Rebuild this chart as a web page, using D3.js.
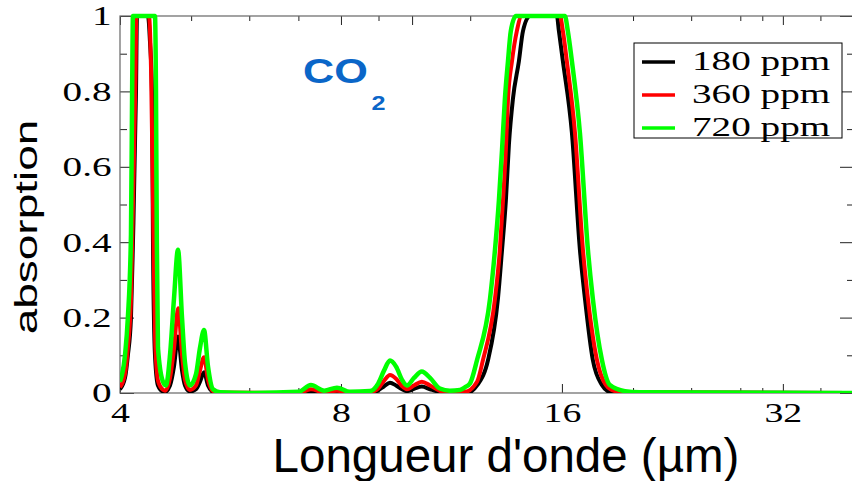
<!DOCTYPE html>
<html>
<head>
<meta charset="utf-8">
<script src="https://cdn.jsdelivr.net/npm/d3@7"></script>
<style>
  body { margin: 0; background: #fff; }
  svg { display: block; }
</style>
</head>
<body>
<script>
// wavelength (µm) and absorption for each CO2 concentration
var wl180 = [4.0, 4.063, 4.10, 4.14, 4.166, 4.206, 4.219, 4.367, 4.395, 4.422, 4.436, 4.464, 4.506, 4.577, 4.606, 4.679, 4.738, 4.798, 4.859, 4.905, 4.982, 5.077, 5.141, 5.206, 5.272, 5.355, 5.474, 7.0, 7.28, 7.59, 7.9, 8.23, 8.76, 8.99, 9.16, 9.33, 9.51, 9.69, 9.84, 10.06, 10.31, 10.58, 10.91, 11.26, 11.62, 11.99, 12.26, 12.69, 13.09, 13.26, 13.42, 13.55, 13.72, 13.98, 14.16, 14.47, 15.75, 15.85, 16.05, 16.51, 16.93, 17.20, 17.63, 18.14, 18.60, 19.5, 40];
var ab180 = [0.01, 0.04, 0.1, 0.2, 0.4, 0.8, 1.0, 1.0, 0.93, 0.8, 0.4, 0.1, 0.02, 0.004, 0.003, 0.02, 0.07, 0.15, 0.06, 0.02, 0.004, 0.01, 0.03, 0.055, 0.02, 0.003, 0, 0, 0.004, 0.001, 0.003, 0, 0.001, 0.007, 0.018, 0.027, 0.02, 0.01, 0.005, 0.011, 0.017, 0.01, 0.003, 0.001, 0.001, 0.003, 0.02, 0.0875, 0.25, 0.38, 0.51, 0.66, 0.78, 0.88, 0.96, 1.0, 1.0, 0.96, 0.88, 0.69, 0.38, 0.25, 0.0875, 0.021, 0.003, 0.001, 0];

var wl360 = [4.0, 4.063, 4.10, 4.14, 4.166, 4.20, 4.21, 4.38, 4.41, 4.44, 4.47, 4.51, 4.58, 4.61, 4.68, 4.74, 4.80, 4.86, 4.905, 4.98, 5.077, 5.141, 5.206, 5.272, 5.355, 5.474, 7.0, 7.28, 7.59, 7.9, 8.23, 8.76, 8.99, 9.16, 9.33, 9.51, 9.69, 9.84, 10.06, 10.31, 10.58, 10.91, 11.26, 11.8, 12.26, 12.49, 12.97, 13.17, 13.30, 13.42, 13.51, 13.68, 13.89, 14.11, 15.90, 16.05, 16.25, 16.67, 17.09, 17.36, 17.86, 18.37, 18.89, 19.5, 40];
var ab360 = [0.015, 0.05, 0.12, 0.25, 0.5, 0.85, 1.0, 1.0, 0.85, 0.45, 0.12, 0.03, 0.008, 0.006, 0.04, 0.12, 0.225, 0.1, 0.035, 0.008, 0.02, 0.06, 0.095, 0.035, 0.005, 0.001, 0, 0.01, 0.002, 0.006, 0.001, 0.002, 0.012, 0.033, 0.048, 0.038, 0.018, 0.01, 0.02, 0.03, 0.02, 0.006, 0.002, 0.003, 0.03, 0.0875, 0.25, 0.38, 0.51, 0.645, 0.78, 0.88, 0.96, 1.0, 1.0, 0.96, 0.88, 0.69, 0.38, 0.25, 0.0875, 0.021, 0.005, 0.002, 0];

var wl720 = [4.0, 4.063, 4.10, 4.14, 4.155, 4.166, 4.464, 4.478, 4.49, 4.506, 4.577, 4.62, 4.679, 4.738, 4.798, 4.859, 4.905, 4.982, 5.077, 5.141, 5.206, 5.272, 5.355, 5.474, 6.0, 7.0, 7.28, 7.59, 7.9, 8.23, 8.76, 8.99, 9.16, 9.33, 9.51, 9.69, 9.84, 10.06, 10.31, 10.58, 10.91, 11.26, 11.62, 11.8, 11.99, 12.26, 12.77, 12.97, 13.13, 13.26, 13.38, 13.51, 13.63, 13.85, 16.15, 16.30, 16.51, 16.93, 17.36, 17.63, 18.14, 18.60, 19.5, 20.4, 40];
var ab720 = [0.03, 0.1, 0.2, 0.42, 0.8, 1.0, 1.0, 0.8, 0.4, 0.12, 0.03, 0.02, 0.1, 0.25, 0.38, 0.2, 0.08, 0.02, 0.05, 0.12, 0.167, 0.07, 0.01, 0.002, 0, 0.003, 0.021, 0.006, 0.014, 0.003, 0.005, 0.025, 0.06, 0.086, 0.07, 0.035, 0.02, 0.04, 0.057, 0.04, 0.012, 0.006, 0.008, 0.015, 0.025, 0.0875, 0.25, 0.38, 0.51, 0.645, 0.78, 0.88, 0.96, 1.0, 1.0, 0.96, 0.88, 0.69, 0.38, 0.25, 0.0875, 0.021, 0.005, 0.002, 0];

var seriesNames = ["180 ppm", "360 ppm", "720 ppm"];
var seriesColors = ["#000000", "#ff0000", "#00ff00"];

var xMajor = [4, 8, 10, 16, 32];
var xMinor = [5, 6, 7, 9, 12, 20, 24, 28, 30, 36];
var yMajor = [0, 0.2, 0.4, 0.6, 0.8, 1];
var yMinor = [0.1, 0.3, 0.5, 0.7, 0.9];

var w = 852, h = 481;
var pLeft = 120, pRight = 854, pTop = 16, pBottom = 393;

var svg = d3.select("body").append("svg")
    .attr("width", w)
    .attr("height", h)
    .style("background", "#fff");

var x = d3.scaleLog().domain([4, 40]).range([pLeft, pRight]);
var y = d3.scaleLinear().domain([0, 1]).range([pBottom, pTop]);

/* ticks on all four sides, pointing inward */
function addAxis(axis, tx, ty) {
  var g = svg.append("g")
      .attr("transform", "translate(" + tx + "," + ty + ")")
      .call(axis);
  g.select(".domain").remove();
  g.selectAll(".tick line").attr("stroke", "#222");
  return g;
}

var serif = "'Liberation Serif', 'Times New Roman', serif";

var xb = addAxis(d3.axisBottom(x).tickValues(xMajor).tickFormat(d3.format("d"))
    .tickSizeInner(-9).tickSizeOuter(0).tickPadding(9), 0, pBottom);
xb.selectAll("text")
    .attr("font-family", serif).attr("font-size", 28).attr("fill", "#000")
    .attr("transform", "scale(1.35,1)");
addAxis(d3.axisBottom(x).tickValues(xMinor).tickFormat("").tickSizeInner(-5).tickSizeOuter(0), 0, pBottom);
addAxis(d3.axisTop(x).tickValues(xMajor).tickFormat("").tickSizeInner(-9).tickSizeOuter(0), 0, pTop);
addAxis(d3.axisTop(x).tickValues(xMinor).tickFormat("").tickSizeInner(-5).tickSizeOuter(0), 0, pTop);

var yl = addAxis(d3.axisLeft(y).tickValues(yMajor).tickFormat(d3.format("~g"))
    .tickSizeInner(-14).tickSizeOuter(0).tickPadding(6), pLeft, 0);
yl.selectAll("text")
    .attr("font-family", serif).attr("font-size", 28).attr("fill", "#000")
    .attr("transform", "scale(1.4,1)");
addAxis(d3.axisLeft(y).tickValues(yMinor).tickFormat("").tickSizeInner(-7).tickSizeOuter(0), pLeft, 0);
addAxis(d3.axisRight(y).tickValues(yMajor).tickFormat("").tickSizeInner(-14).tickSizeOuter(0), pRight, 0);
addAxis(d3.axisRight(y).tickValues(yMinor).tickFormat("").tickSizeInner(-7).tickSizeOuter(0), pRight, 0);

// frame
svg.append("rect")
    .attr("x", pLeft).attr("y", pTop)
    .attr("width", pRight - pLeft).attr("height", pBottom - pTop)
    .attr("fill", "none")
    .attr("stroke", "#666")
    .attr("stroke-width", 1.2);

svg.append("clipPath").attr("id", "plot")
  .append("rect")
    .attr("x", pLeft).attr("y", pTop - 3)
    .attr("width", pRight - pLeft).attr("height", pBottom - pTop + 3);

var line = d3.line()
    .x(function(d){ return x(d[0]); })
    .y(function(d){ return y(d[1]); })
    .curve(d3.curveMonotoneX);

var series = [
  d3.zip(wl180, ab180),
  d3.zip(wl360, ab360),
  d3.zip(wl720, ab720)
];

svg.append("g").attr("clip-path", "url(#plot)")
  .selectAll("path.curve")
  .data(series)
  .enter()
  .append("path")
    .attr("class", "curve")
    .attr("d", line)
    .attr("fill", "none")
    .attr("stroke", function(d, i){ return seriesColors[i]; })
    .attr("stroke-width", function(d, i){ return i == 2 ? 4.5 : 4; })
    .attr("stroke-linejoin", "round");

/* legend */
var lg = svg.append("g");
lg.append("rect")
    .attr("x", 634).attr("y", 43)
    .attr("width", 208).attr("height", 95)
    .attr("fill", "#fff")
    .attr("stroke", "#000")
    .attr("stroke-width", 1);

seriesNames.forEach(function(name, i){
  var ly = 62 + i * 33;
  lg.append("line")
      .attr("x1", 642).attr("x2", 675)
      .attr("y1", ly).attr("y2", ly)
      .attr("stroke", seriesColors[i])
      .attr("stroke-width", 3.5);
  lg.append("text")
      .attr("transform", "translate(692," + (ly + 8) + ") scale(1.4,1)")
      .attr("font-family", serif)
      .attr("font-size", 28)
      .attr("fill", "#000")
      .text(name);
});

/* CO2 label */
var co2 = svg.append("text")
    .attr("transform", "translate(303,83) scale(1.2,1)")
    .attr("font-family", "'Liberation Sans', Arial, sans-serif")
    .attr("font-weight", "bold")
    .attr("font-size", 36)
    .attr("fill", "#0a66c8");
co2.append("tspan").text("CO");
co2.append("tspan").attr("dx", 3).attr("dy", 27).attr("font-size", 21).text("2");

/* axis titles */
svg.append("text")
    .attr("transform", "translate(37,227) rotate(-90) scale(1,0.7)")
    .attr("text-anchor", "middle")
    .attr("font-family", "'Liberation Sans', Arial, sans-serif")
    .attr("font-size", 46)
    .attr("fill", "#000")
    .text("absorption");

svg.append("text")
    .attr("x", 506)
    .attr("y", 472)
    .attr("text-anchor", "middle")
    .attr("font-family", "'Liberation Sans', Arial, sans-serif")
    .attr("font-size", 47.5)
    .attr("fill", "#000")
    .text("Longueur d'onde (µm)");
</script>
</body>
</html>
